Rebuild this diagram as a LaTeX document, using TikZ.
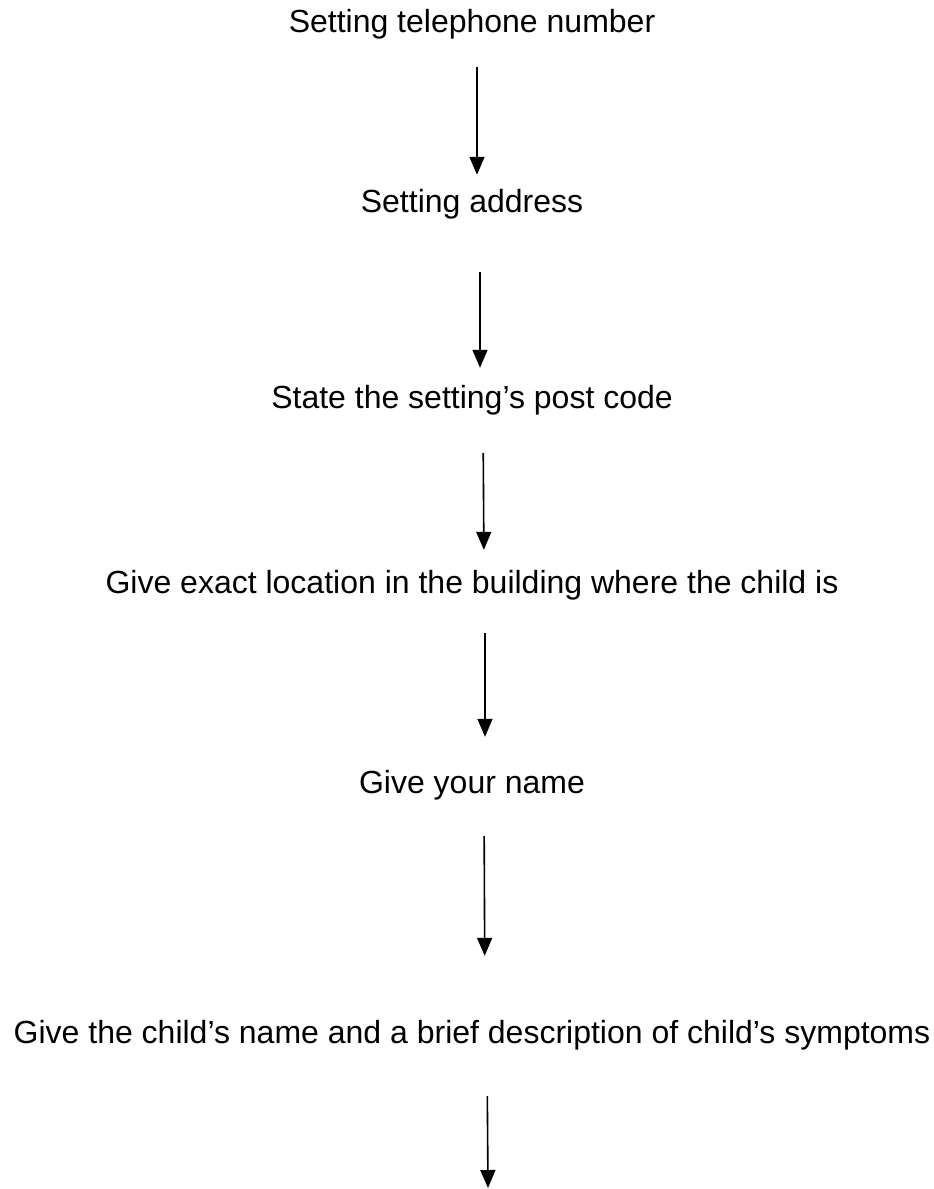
\documentclass[tikz,border=0pt]{standalone}
\usepackage{fontspec}
\setmainfont{Liberation Sans}
\usetikzlibrary{arrows.meta}
\tikzstyle{stage} = [inner sep=0pt, text height=23pt, text depth=7pt, font=\fontsize{32}{38}\selectfont]
\tikzstyle{arrow} = [line width=1.6pt, -{Triangle[width=15pt,length=18pt]}]

\begin{document}
\begin{tikzpicture}[x=1pt, y=1pt, node distance=190pt]
\useasboundingbox (0,0) rectangle (934,-1189);

% Nodes
\node (phone) [stage] at (472,-24) {Setting telephone number};
\node (address) [stage, below of=phone, yshift=10pt] {Setting address};
\node (postcode) [stage, below of=address, yshift=-6pt] {State the setting’s post code};
\node (location) [stage, below of=postcode, yshift=5pt] {Give exact location in the building where the child is};
\node (yourname) [stage, below of=location, yshift=-10pt] {Give your name};
\node (symptoms) [stage, below of=yourname, yshift=-60pt] {Give the child’s name and a brief description of child’s symptoms};
\coordinate (end) at (488,-1188);

% Arrows
\draw [arrow, shorten <=28pt, shorten >=14pt] ([xshift=5pt]phone.south) -- ([xshift=5pt]address.north);
\draw [arrow, shorten <=53pt, shorten >=17pt] ([xshift=8pt]address.south) -- ([xshift=8pt]postcode.north);
\draw [arrow, shorten <=38pt, shorten >=20pt] ([xshift=11pt]postcode.south) -- ([xshift=12pt]location.north);
\draw [arrow, shorten <=33pt, shorten >=33pt] ([xshift=13pt]location.south) -- ([xshift=13pt]yourname.north);
\draw [arrow, shorten <=36pt, shorten >=64pt] ([xshift=12pt]yourname.south) -- ([xshift=13pt]symptoms.north);
\draw [arrow, shorten <=46pt] ([xshift=15pt]symptoms.south) -- (end);

\end{tikzpicture}
\end{document}
